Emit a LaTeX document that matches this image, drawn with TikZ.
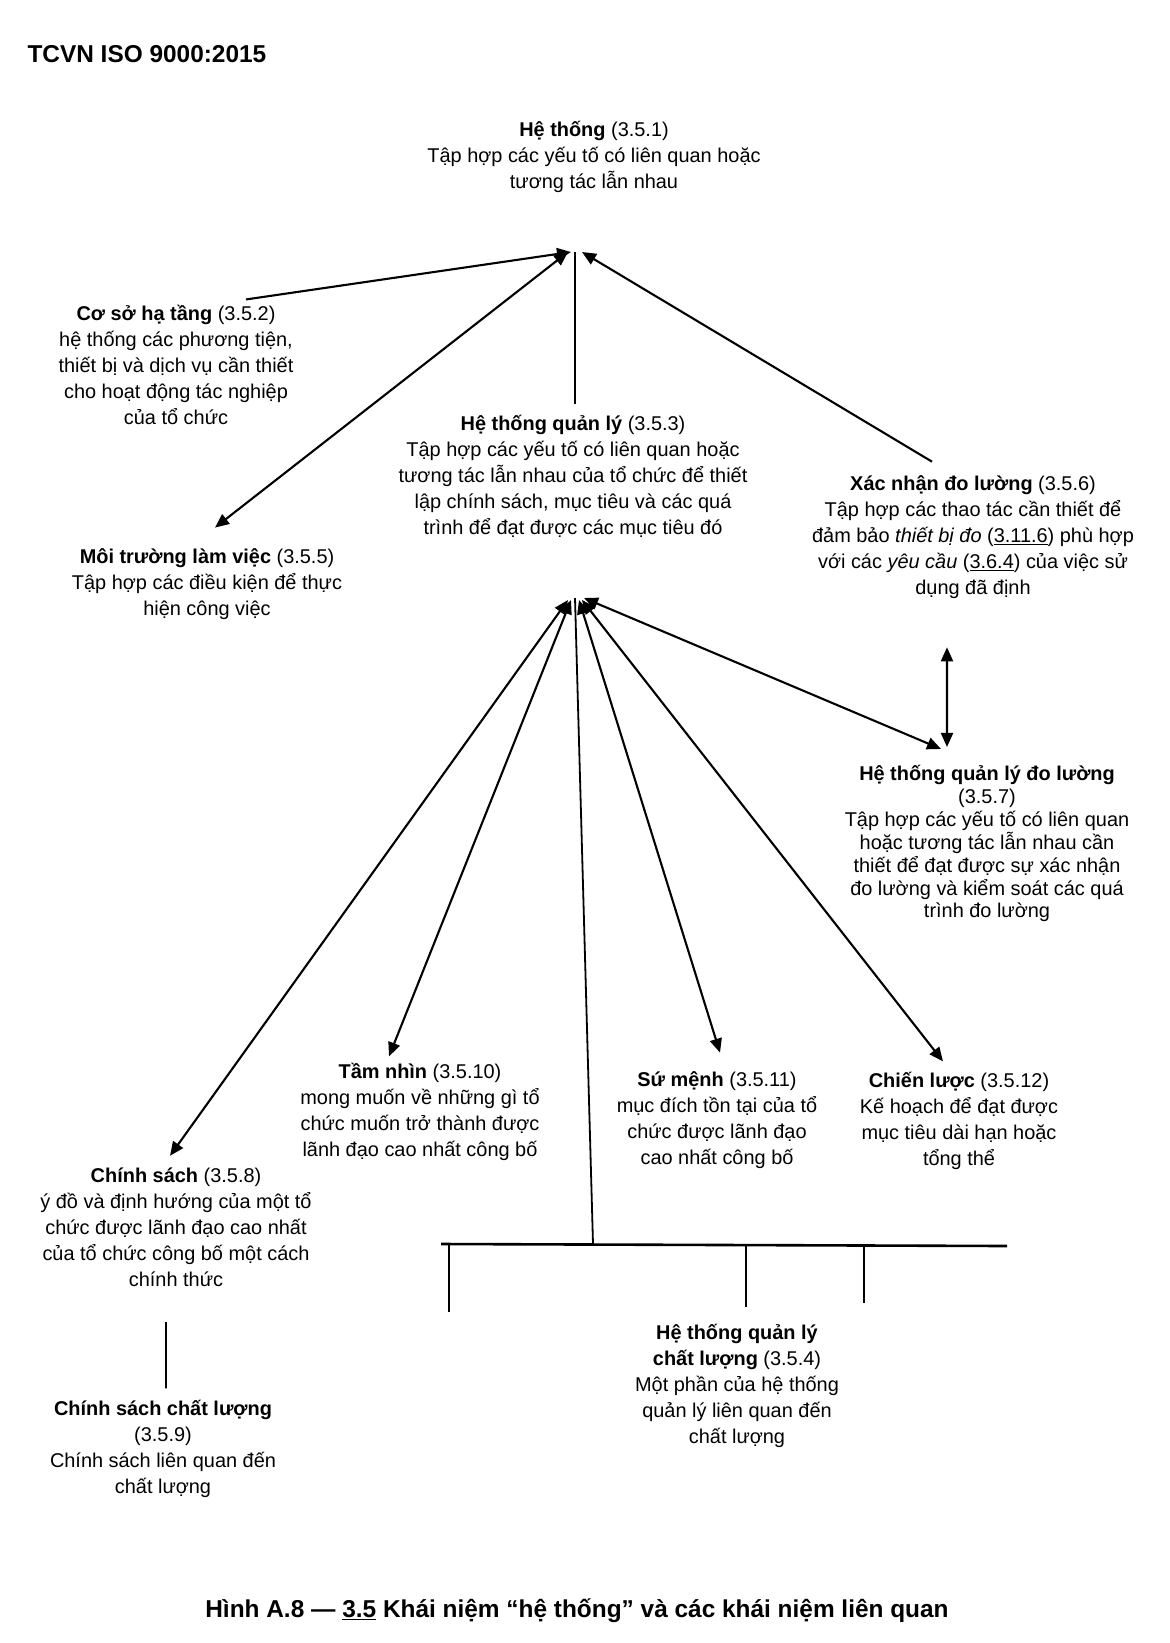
\documentclass[tikz,border=0pt]{standalone}
\usepackage{fontspec}
\setmainfont{Liberation Sans}
\usepackage{tikz}
\usetikzlibrary{arrows.meta, positioning, calc}
\tikzset{
    term/.style={align=center, inner sep=3bp, font=\fontsize{20}{26}\selectfont,
                 execute at begin node=\strut, execute at end node=\strut},
    tight/.style={font=\fontsize{20}{23}\selectfont},
    heading/.style={font=\fontsize{24.5}{28}\selectfont\bfseries},
    arr/.style={line width=2.1bp, -{Triangle[length=14bp,width=12bp]}},
    both/.style={line width=2.1bp, {Triangle[length=14bp,width=12bp]}-{Triangle[length=14bp,width=12bp]}},
    link/.style={line width=1.8bp},
}

\begin{document}
\begin{tikzpicture}[x=1bp, y=-1bp]
    \fill[white] (0,0) rectangle (1169,1643);
    \useasboundingbox (0,0) rectangle (1169,1643);

    \node[heading, anchor=west] (title) at (24,54) {TCVN ISO 9000:2015};

    \node[term] (system) at (594,159) {\textbf{Hệ thống} (3.5.1)\\Tập hợp các yếu tố có liên quan hoặc\\tương tác lẫn nhau};
    \node[term] (infra) at (176,369) {\textbf{Cơ sở hạ tầng} (3.5.2)\\hệ thống các phương tiện,\\thiết bị và dịch vụ cần thiết\\cho hoạt động tác nghiệp\\của tổ chức};
    \node[term] (mgmt) at (573,479) {\textbf{Hệ thống quản lý} (3.5.3)\\Tập hợp các yếu tố có liên quan hoặc\\tương tác lẫn nhau của tổ chức để thiết\\lập chính sách, mục tiêu và các quá\\trình để đạt được các mục tiêu đó};
    \node[term] (verif) at (973,539) {\textbf{Xác nhận đo lường} (3.5.6)\\Tập hợp các thao tác cần thiết để\\đảm bảo \textit{thiết bị đo} (\underline{3.11.6}) phù hợp\\với các \textit{yêu cầu} (\underline{3.6.4}) của việc sử\\dụng đã định};
    \node[term] (workenv) at (207,586) {\textbf{Môi trường làm việc} (3.5.5)\\Tập hợp các điều kiện để thực\\hiện công việc};
    \node[term, tight] (msys) at (987,845) {\textbf{Hệ thống quản lý đo lường}\\(3.5.7)\\Tập hợp các yếu tố có liên quan\\hoặc tương tác lẫn nhau cần\\thiết để đạt được sự xác nhận\\đo lường và kiểm soát các quá\\trình đo lường};
    \node[term] (vision) at (420,1114) {\textbf{Tầm nhìn} (3.5.10)\\mong muốn về những gì tổ\\chức muốn trở thành được\\lãnh đạo cao nhất công bố};
    \node[term] (mission) at (717,1122) {\textbf{Sứ mệnh} (3.5.11)\\mục đích tồn tại của tổ\\chức được lãnh đạo\\cao nhất công bố};
    \node[term] (strategy) at (959,1123) {\textbf{Chiến lược} (3.5.12)\\Kế hoạch để đạt được\\mục tiêu dài hạn hoặc\\tổng thể};
    \node[term] (policy) at (176,1231) {\textbf{Chính sách} (3.5.8)\\ý đồ và định hướng của một tổ\\chức được lãnh đạo cao nhất\\của tổ chức công bố một cách\\chính thức};
    \node[term] (qms) at (737,1388) {\textbf{Hệ thống quản lý}\\\textbf{chất lượng} (3.5.4)\\Một phần của hệ thống\\quản lý liên quan đến\\chất lượng};
    \node[term] (qpol) at (163,1451) {\textbf{Chính sách chất lượng}\\(3.5.9)\\Chính sách liên quan đến\\chất lượng};

    \node[heading] (caption) at (577,1611) {Hình A.8 — \underline{3.5} Khái niệm “hệ thống” và các khái niệm liên quan};

    \coordinate (hubA) at (575,252);
    \coordinate (hubB) at (575,598);
    \coordinate (barL) at (441,1244);
    \coordinate (barR) at (1007,1246);
    \coordinate (barJoin) at (593,1244);

    \draw[arr] ([xshift=70bp,yshift=3bp]infra.north) -- ([xshift=-4bp]hubA);
    \draw[both] ([xshift=8bp,yshift=18bp]workenv.north) -- ([xshift=-7bp]hubA);
    \draw[link, shorten >=8bp] (hubA) -- (hubA |- mgmt.north);
    \draw[arr] ([xshift=-41bp,yshift=11bp]verif.north) -- ([xshift=7bp]hubA);

    \draw[both] ([xshift=-7bp,yshift=-2bp]hubB) -- ([xshift=-6bp,yshift=9bp]policy.north);
    \draw[both] ([xshift=-4bp,yshift=-2bp]hubB) -- ([xshift=-31bp,yshift=4bp]vision.north);
    \draw[link] (hubB) -- (barJoin);
    \draw[both] ([xshift=4bp,yshift=-2bp]hubB) -- ([xshift=3bp,yshift=16bp]mission.north);
    \draw[both] ([xshift=7bp,yshift=-2bp]hubB) -- ([xshift=-16bp,yshift=8bp]strategy.north);
    \draw[both] ([xshift=9bp]hubB) -- ([xshift=-46bp,yshift=13bp]msys.north);
    \draw[both] ([xshift=-26bp,yshift=-42bp]verif.south) -- ([xshift=-40bp,yshift=15bp]msys.north);

    \draw[line width=2.6bp] (barL) -- (barR);
    \foreach \x/\len in {449/67, 746/62, 864/58}
        \draw[link] (\x,1245) -- ++(0,\len);

    \draw[link] ([xshift=-10bp,yshift=-25bp]policy.south) -- ([xshift=3bp,yshift=9bp]qpol.north);
\end{tikzpicture}
\end{document}
